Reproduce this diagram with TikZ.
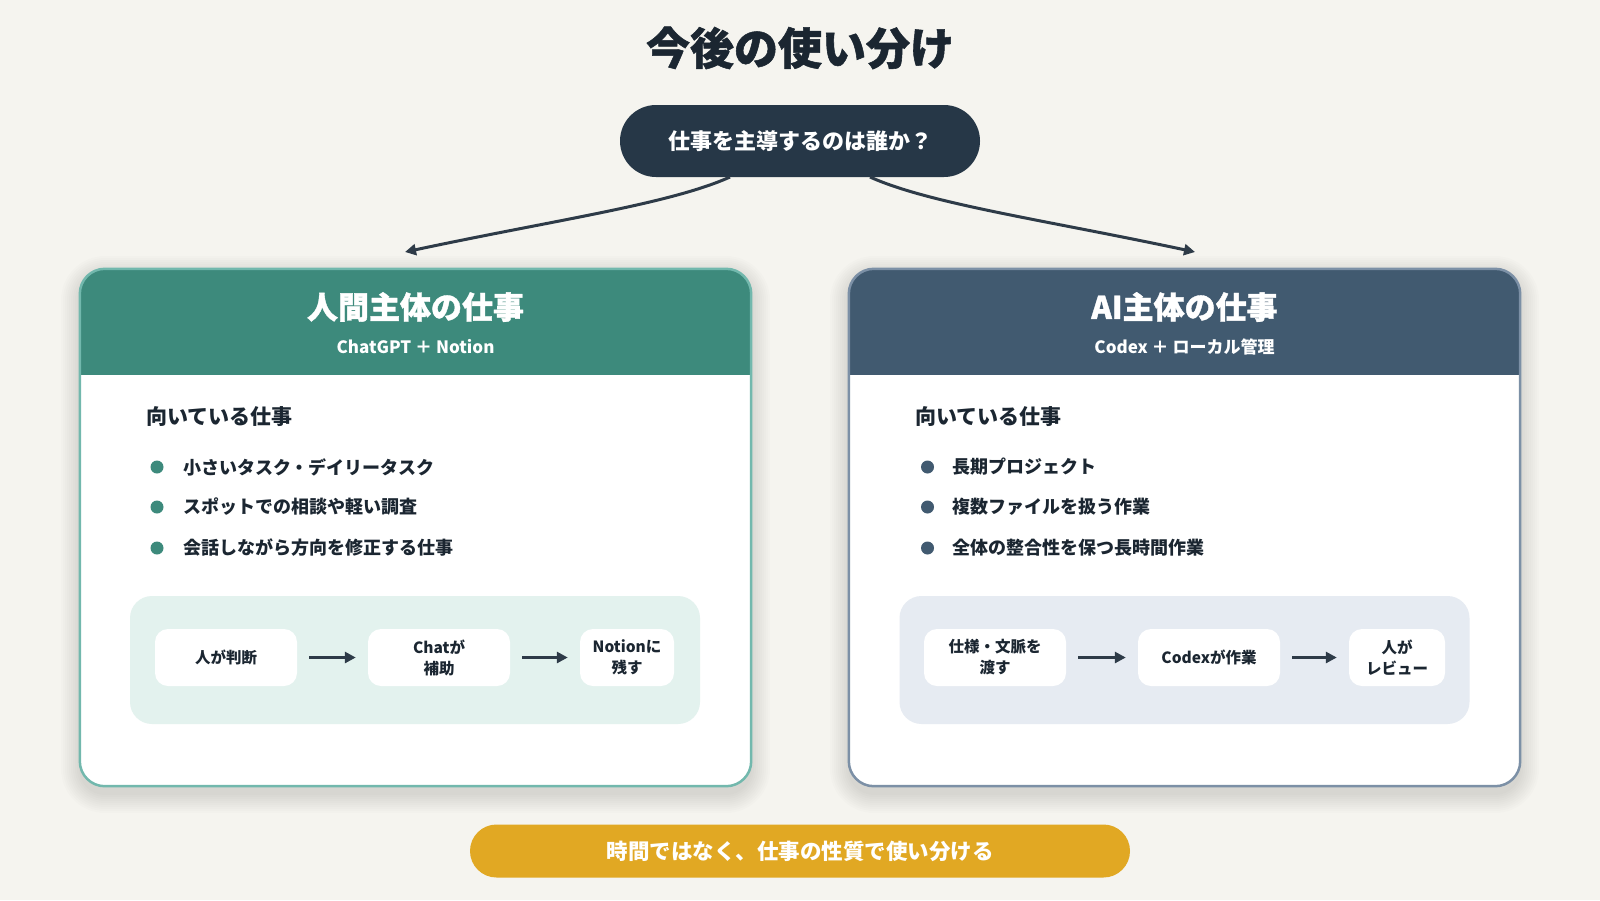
\documentclass[tikz,border=0pt]{standalone}
\usepackage{fontspec}
\setmainfont{Noto Sans CJK JP}
\newfontfamily\heavy{Noto Sans CJK JP}[BoldFeatures={FakeBold=1.2}]
\usetikzlibrary{arrows.meta,calc}
\definecolor{bg}{HTML}{F5F4EF}
\definecolor{ink}{HTML}{1B2631}
\definecolor{pillc}{HTML}{263747}
\definecolor{arr}{HTML}{2E3B48}
\definecolor{teal}{HTML}{3D8A7C}
\definecolor{tealbd}{HTML}{72B8AD}
\definecolor{tealfl}{HTML}{E3F2EE}
\definecolor{slate}{HTML}{415A70}
\definecolor{slatebd}{HTML}{7C90A6}
\definecolor{slatefl}{HTML}{E6EBF2}
\definecolor{gold}{HTML}{E1A823}
\tikzset{
  titletext/.style={text=ink, font=\fontsize{44}{50}\selectfont\heavy\bfseries},
  pill/.style={fill=pillc, text=white, minimum width=360, minimum height=72, rounded corners=36,
     font=\fontsize{22}{26}\selectfont\bfseries},
  card/.style={fill=white, minimum width=671, minimum height=517, rounded corners=25},
  htitle/.style={text=white, font=\fontsize{31}{36}\selectfont\heavy\bfseries},
  hsub/.style={text=white, font=\fontsize{17}{20}\selectfont\bfseries},
  heading/.style={text=ink, anchor=west, inner sep=0, font=\fontsize{21}{24}\selectfont\bfseries},
  item/.style={text=ink, anchor=west, inner sep=0, font=\fontsize{18}{22}\selectfont\bfseries},
  dot/.style={circle, minimum size=13, inner sep=0},
  flowbg/.style={minimum height=128, minimum width=570, rounded corners=22},
  stepbox/.style={fill=white, text=ink, minimum height=57, rounded corners=13, align=center,
     font=\fontsize{15.5}{21}\selectfont\bfseries},
  flowarrow/.style={draw=arr, line width=3, -{Triangle[length=11pt,width=11pt]}, shorten <=12pt, shorten >=12pt},
  conn/.style={draw=arr, line width=3, -{Triangle[length=11pt,width=11pt]}},
  banner/.style={fill=gold, text=white, minimum width=660, minimum height=53, rounded corners=26.5,
     font=\fontsize{21.5}{26}\selectfont\bfseries},
  shade/.style={fill=black, opacity=0.011},
}
\begin{document}
\begin{tikzpicture}[x=1pt,y=-1pt]
\useasboundingbox (0,0) rectangle (1600,900);
\fill[bg] (0,0) rectangle (1600,900);

\node[titletext] (title) at (800,48) {今後の使い分け};
\node[pill] (q) at (800,141) {仕事を主導するのは誰か？};

% soft shadows
\foreach \s in {1,3,...,19} {
  \fill[shade, rounded corners=25+\s] (80-\s,275-\s) rectangle (751+\s,794+\s);
  \fill[shade, rounded corners=25+\s] (849-\s,275-\s) rectangle (1520+\s,794+\s);
}

% cards
\node[card] (lcard) at (415.5,527.5) {};
\node[card] (rcard) at (1184.5,527.5) {};
\begin{scope}
  \clip[rounded corners=25] (lcard.north west) rectangle (lcard.south east);
  \fill[teal] (lcard.north west) rectangle ($(lcard.north east)+(0,106)$);
\end{scope}
\begin{scope}
  \clip[rounded corners=25] (rcard.north west) rectangle (rcard.south east);
  \fill[slate] (rcard.north west) rectangle ($(rcard.north east)+(0,106)$);
\end{scope}
\draw[tealbd, line width=2.5, rounded corners=25] (lcard.north west) rectangle (lcard.south east);
\draw[slatebd, line width=2.5, rounded corners=25] (rcard.north west) rectangle (rcard.south east);

% connectors
\coordinate (qa) at (730,177);
\coordinate (qb) at (870,177);
\coordinate (la) at (405,252);
\coordinate (rb) at (1195,252);
\draw[conn] (qa) .. controls (670,204) and (555,220) .. (la);
\draw[conn] (qb) .. controls (930,204) and (1045,220) .. (rb);

% headers
\node[htitle] (lt) at (415.5,307) {人間主体の仕事};
\node[hsub] (ls) at (415.5,347) {ChatGPT ＋ Notion};
\node[htitle] (rt) at (1184.5,307) {AI主体の仕事};
\node[hsub] (rs) at (1184.5,347) {Codex ＋ ローカル管理};

% left list
\node[heading] (lh) at (146,417) {向いている仕事};
\node[dot, fill=teal] (ld1) at (157,467) {};
\node[dot, fill=teal] (ld2) at (157,507) {};
\node[dot, fill=teal] (ld3) at (157,548) {};
\node[item] (li1) at (183,467) {小さいタスク・デイリータスク};
\node[item] (li2) at (183,507) {スポットでの相談や軽い調査};
\node[item] (li3) at (183,548) {会話しながら方向を修正する仕事};

% right list
\node[heading] (rh) at (915,417) {向いている仕事};
\node[dot, fill=slate] (rd1) at (927.5,467) {};
\node[dot, fill=slate] (rd2) at (927.5,507) {};
\node[dot, fill=slate] (rd3) at (927.5,548) {};
\node[item] (ri1) at (952,467) {長期プロジェクト};
\node[item] (ri2) at (952,507) {複数ファイルを扱う作業};
\node[item] (ri3) at (952,548) {全体の整合性を保つ長時間作業};

% left flow
\node[flowbg, fill=tealfl] (lflow) at (415,660) {};
\node[stepbox, minimum width=142] (l1) at (226,657.5) {人が判断};
\node[stepbox, minimum width=142] (l2) at (439,657.5) {Chatが\\補助};
\node[stepbox, minimum width=94] (l3) at (627,657.5) {Notionに\\残す};
\draw[flowarrow] (l1) -- (l2);
\draw[flowarrow] (l2) -- (l3);

% right flow
\node[flowbg, fill=slatefl] (rflow) at (1184.5,660) {};
\node[stepbox, minimum width=142] (r1) at (995,657.5) {仕様・文脈を\\渡す};
\node[stepbox, minimum width=142] (r2) at (1209,657.5) {Codexが作業};
\node[stepbox, minimum width=96] (r3) at (1397,657.5) {人が\\レビュー};
\draw[flowarrow] (r1) -- (r2);
\draw[flowarrow] (r2) -- (r3);

% banner
\node[banner] (ban) at (800,851) {時間ではなく、仕事の性質で使い分ける};
\end{tikzpicture}
\end{document}
